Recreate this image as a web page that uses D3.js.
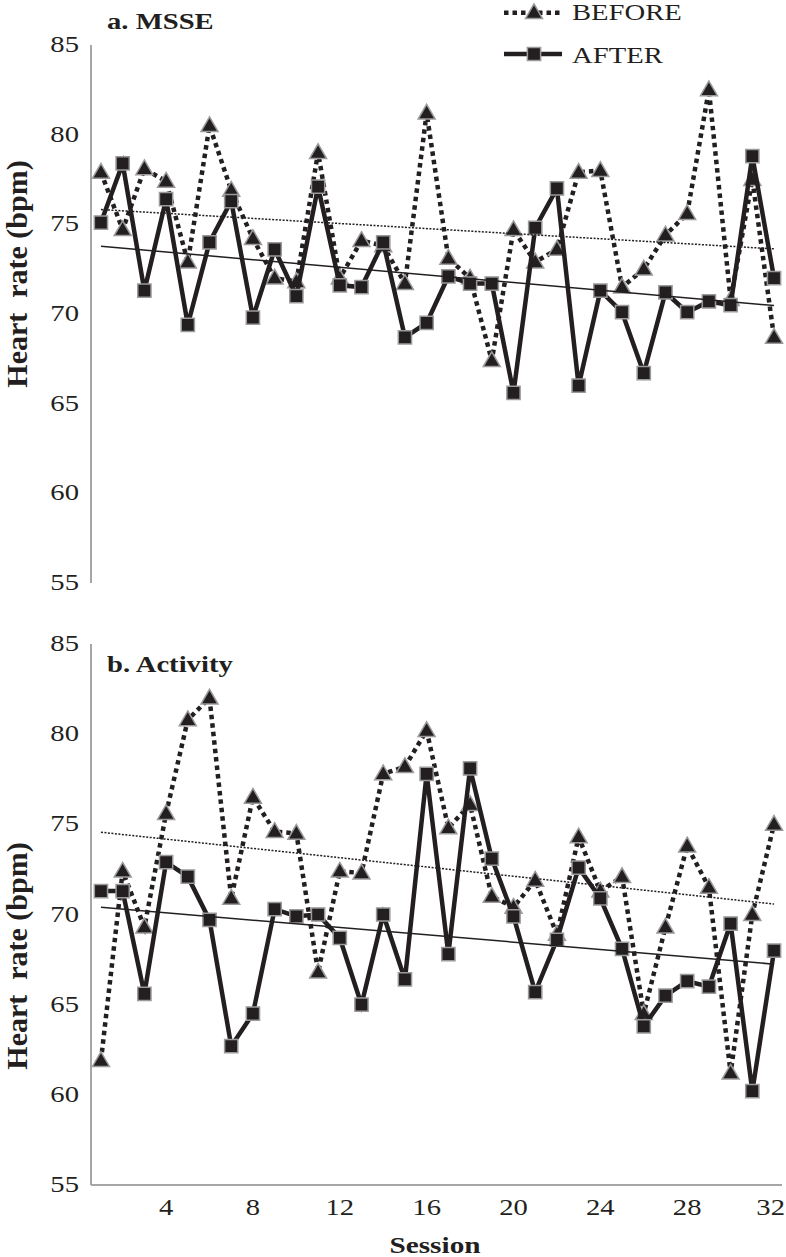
<!DOCTYPE html>
<html>
<head>
<meta charset="utf-8">
<script src="https://cdn.jsdelivr.net/npm/d3@7/dist/d3.min.js"></script>
<style>
  html, body { margin: 0; padding: 0; background: #fff; }
  svg { display: block; }
  text { font-family: "Liberation Serif", "Times New Roman", serif; fill: #231f20; }
</style>
</head>
<body>
<svg id="chart" width="786" height="1257"></svg>
<script>
// ---- data ----
const sessions = d3.range(1, 33);
const xTicks = [4, 8, 12, 16, 20, 24, 28, 32];
const yTicks = [55, 60, 65, 70, 75, 80, 85];
const seriesNames = ["BEFORE", "AFTER"];

const msseBefore = [77.9, 74.7, 78.1, 77.4, 72.9, 80.5, 76.9, 74.2, 72.0, 71.8, 79.0, 72.0, 74.1, 73.8, 71.7, 81.2,
                    73.1, 72.0, 67.4, 74.7, 72.9, 73.6, 77.9, 78.0, 71.5, 72.5, 74.4, 75.6, 82.5, 70.8, 77.5, 68.7];
const msseAfter  = [75.1, 78.4, 71.3, 76.4, 69.4, 74.0, 76.3, 69.8, 73.6, 71.0, 77.1, 71.6, 71.5, 74.0, 68.7, 69.5,
                    72.1, 71.7, 71.7, 65.6, 74.8, 77.0, 66.0, 71.3, 70.1, 66.7, 71.2, 70.1, 70.7, 70.5, 78.8, 72.0];
const actBefore  = [61.9, 72.4, 69.3, 75.6, 80.8, 82.0, 70.9, 76.5, 74.6, 74.5, 66.8, 72.4, 72.3, 77.8, 78.2, 80.2,
                    74.8, 76.1, 71.0, 70.4, 71.9, 68.9, 74.3, 71.3, 72.1, 64.5, 69.3, 73.8, 71.5, 61.2, 70.0, 75.0];
const actAfter   = [71.3, 71.3, 65.6, 72.9, 72.1, 69.7, 62.7, 64.5, 70.3, 69.9, 70.0, 68.7, 65.0, 70.0, 66.4, 77.8,
                    67.8, 78.1, 73.1, 69.9, 65.7, 68.6, 72.6, 70.9, 68.1, 63.8, 65.5, 66.3, 66.0, 69.5, 60.2, 68.0];

// ---- layout ----
const svg = d3.select("#chart");
const FS = 23.5, SX = 1.22;
const ink = "#231f20", axisGray = "#a6a6a6", markStroke = "#9a9a9a";
const dotted = "4.5,4";

const x = d3.scaleLinear().domain([0.5, 32.5]).range([90.1, 784.9]);

const panels = [
  { title: "a. MSSE",     before: msseBefore, after: msseAfter, top: 45,  bottom: 583,  titleY: 28.5, labelY: 274, xAxis: false },
  { title: "b. Activity", before: actBefore,  after: actAfter,  top: 644, bottom: 1185, titleY: 672,  labelY: 956, xAxis: true }
];

function stretchedText(g, str, tx, ty, anchor, opts = {}) {
  return g.append("g").attr("transform", `translate(${tx},${ty}) scale(${SX},1)`)
    .append("text").attr("x", 0).attr("y", 0)
    .attr("text-anchor", anchor)
    .attr("font-size", opts.size || FS)
    .attr("font-weight", opts.bold ? "bold" : "normal")
    .text(str);
}

function regression(vals) {
  const xs = sessions;
  const mx = d3.mean(xs), my = d3.mean(vals);
  let num = 0, den = 0;
  for (let i = 0; i < vals.length; i++) { num += (xs[i] - mx) * (vals[i] - my); den += (xs[i] - mx) ** 2; }
  const b = num / den, a = my - b * mx;
  return [[1, a + b], [32, a + b * 32]];
}

const tri = d3.symbol().type(d3.symbolTriangle).size(125);
const sq = d3.symbol().type(d3.symbolSquare).size(175);

panels.forEach(p => {
  const y = d3.scaleLinear().domain([55, 85]).range([p.bottom, p.top]);
  const g = svg.append("g");

  // y axis line
  g.append("line").attr("x1", 91).attr("x2", 91).attr("y1", p.top).attr("y2", p.bottom)
    .attr("stroke", axisGray).attr("stroke-width", 2);
  yTicks.forEach(v => stretchedText(g, String(v), 79, y(v) + 7, "end"));

  // x axis
  if (p.xAxis) {
    g.append("line").attr("x1", 91).attr("x2", 782).attr("y1", p.bottom).attr("y2", p.bottom)
      .attr("stroke", axisGray).attr("stroke-width", 2);
    xTicks.forEach(v => {
      const last = v === xTicks[xTicks.length - 1];
      stretchedText(g, String(v), last ? 785 : x(v), 1215, last ? "end" : "middle");
    });
    stretchedText(g, "Session", 435, 1253, "middle", { bold: true, size: 24 });
  }

  // y-axis title
  g.append("text")
    .attr("transform", `translate(27,${p.labelY}) rotate(-90)`)
    .attr("text-anchor", "middle")
    .attr("font-size", 30).attr("font-weight", "bold")
    .attr("xml:space", "preserve").style("white-space", "pre")
    .text("Heart  rate (bpm)");

  // panel title
  stretchedText(g, p.title, 107, p.titleY, "start", { bold: true });

  const line = d3.line().x((d, i) => x(sessions[i])).y(d => y(d));

  // BEFORE series (dotted + triangles)
  g.append("path").datum(p.before).attr("d", line)
    .attr("fill", "none").attr("stroke", ink).attr("stroke-width", 4.5)
    .attr("stroke-dasharray", dotted);
  g.selectAll(null).data(p.before).enter().append("path")
    .attr("d", tri).attr("transform", (d, i) => `translate(${x(sessions[i])},${y(d) + 1})`)
    .attr("fill", ink).attr("stroke", markStroke).attr("stroke-width", 1.5);

  // AFTER series (solid + squares)
  g.append("path").datum(p.after).attr("d", line)
    .attr("fill", "none").attr("stroke", ink).attr("stroke-width", 4.5);
  g.selectAll(null).data(p.after).enter().append("path")
    .attr("d", sq).attr("transform", (d, i) => `translate(${x(sessions[i])},${y(d)})`)
    .attr("fill", ink).attr("stroke", markStroke).attr("stroke-width", 1.5);

  // trend lines
  const tl = d3.line().x(d => x(d[0])).y(d => y(d[1]));
  g.append("path").datum(regression(p.before)).attr("d", tl)
    .attr("fill", "none").attr("stroke", ink).attr("stroke-width", 1.5).attr("stroke-dasharray", "2,1.5");
  g.append("path").datum(regression(p.after)).attr("d", tl)
    .attr("fill", "none").attr("stroke", ink).attr("stroke-width", 1.5);
});

// ---- legend ----
const lg = svg.append("g");
const legendRows = [
  { name: seriesNames[0], y: 12.7, base: 20, dashed: true },
  { name: seriesNames[1], y: 54, base: 63, dashed: false }
];
legendRows.forEach(r => {
  lg.append("line").attr("x1", 504).attr("x2", 562).attr("y1", r.y).attr("y2", r.y)
    .attr("stroke", ink).attr("stroke-width", 4.5)
    .attr("stroke-dasharray", r.dashed ? dotted : null);
  lg.append("path").attr("d", r.dashed ? tri : sq)
    .attr("transform", `translate(534,${r.y + (r.dashed ? 1 : 0)})`)
    .attr("fill", ink).attr("stroke", markStroke).attr("stroke-width", 1.5);
  stretchedText(lg, r.name, 572, r.base, "start");
});
</script>
</body>
</html>
